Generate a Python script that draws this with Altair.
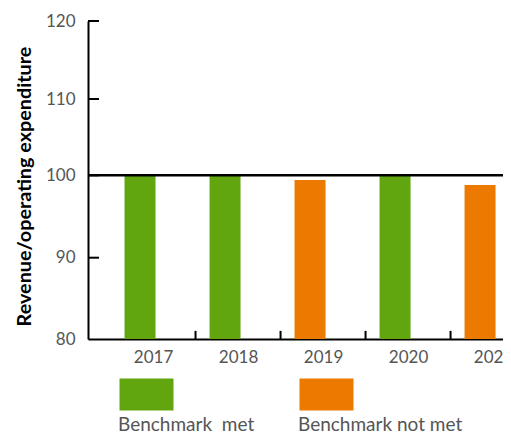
import altair as alt
import pandas as pd

# ---- data ----
years = [2017, 2018, 2019, 2020, 2021]
values = [100.0, 100.17, 99.43, 100.02, 98.82]
status = ["Benchmark\u00a0 met", "Benchmark\u00a0 met", "Benchmark not met",
          "Benchmark\u00a0 met", "Benchmark not met"]
categories = ["Benchmark\u00a0 met", "Benchmark not met"]
colors = ["#62A60F", "#EC7A00"]
y_ticks = [80, 90, 100, 110, 120]
inner_y_ticks = [90, 100, 110, 120]
x_tick_marks = [2017.5, 2018.5, 2019.5, 2020.5]
benchmark = [100]

FONT = "Lato"
W, H = 415, 318

df = pd.DataFrame({"year": years, "value": values, "status": status})
xt_df = pd.DataFrame({"year": x_tick_marks, "lo": [80] * 4, "hi": [81] * 4})

xs = alt.Scale(domain=[2016.235, 2021.117], nice=False, zero=False, padding=0)
ys = alt.Scale(domain=y_ticks, range=[318, 236.7, 154.3, 78, 0], nice=False, zero=False)

x_axis = alt.Axis(
    values=years, format="d", ticks=False, grid=False, title=None,
    domainColor="black", domainWidth=2, labelFont=FONT, labelFontSize=17,
    labelColor="#555555", labelPadding=10, labelFlush=False, labelOverlap=False)
y_axis = alt.Axis(
    values=y_ticks, ticks=False, grid=False, domainColor="black", domainWidth=2,
    labelFont=FONT, labelFontSize=17, labelColor="#555555", labelPadding=13,
    title="Revenue/operating expenditure", titleFont=FONT, titleFontSize=19.8,
    titleFontWeight="bold", titleColor="black", titleAngle=270,
    titleX=-64, titleY=165, titleAlign="center", titleBaseline="middle")

bars = alt.Chart(df).mark_bar(width=31, xOffset=-13).encode(
    x=alt.X("year:Q", scale=xs, axis=x_axis),
    y=alt.Y("value:Q", scale=ys, axis=y_axis),
    y2=alt.datum(80),
    color=alt.Color("status:N", scale=alt.Scale(domain=categories, range=colors),
                    legend=alt.Legend(
                        title=None, orient="none", legendX=11, legendY=394,
                        direction="horizontal", padding=0,
                        symbolType="M2.2,-9.24H13V-2.84H2.2Z", symbolSize=100,
                        symbolStrokeWidth=0, labelOffset=0, columnPadding=24,
                        labelFont=FONT, labelFontSize=19, labelColor="#555555",
                        labelLimit=0)),
)

xt = alt.Chart(xt_df).mark_rule(color="black", strokeWidth=2).encode(
    x=alt.X("year:Q", scale=xs, axis=x_axis),
    y=alt.Y("lo:Q", scale=ys, axis=y_axis),
    y2="hi:Q",
)

ref = alt.Chart(pd.DataFrame({"b": benchmark})).mark_rule(
    color="black", strokeWidth=2.5).encode(y=alt.Y("b:Q", scale=ys, axis=y_axis))

yt = alt.Chart(pd.DataFrame({"v": inner_y_ticks})).mark_rule(
    color="black", strokeWidth=2).encode(
    y=alt.Y("v:Q", scale=ys, axis=y_axis), x=alt.value(0), x2=alt.value(11))

chart = alt.layer(bars, xt, ref, yt).properties(
    width=W, height=H,
    autosize=alt.AutoSizeParams(type="none"),
    padding={"left": 80, "top": 13, "right": 0, "bottom": 96},
    background="white",
).configure_view(stroke=None)

chart.save("out.html", embed_options={"renderer": "svg", "actions": False})
